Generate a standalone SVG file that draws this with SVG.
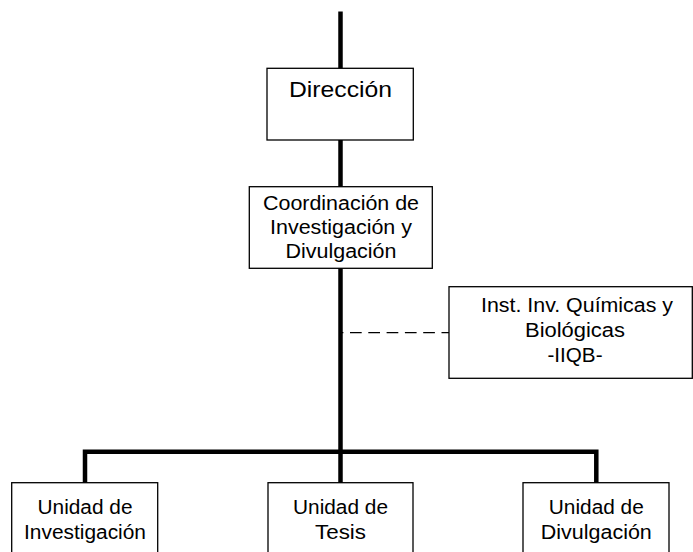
<svg xmlns="http://www.w3.org/2000/svg" width="693" height="552" viewBox="0 0 693 552">
<style>
.box{fill:#fff;stroke:#000;stroke-width:1.3}
.t{font-family:"Liberation Sans",Arial,sans-serif;font-size:19.5px;fill:#000;text-anchor:middle}
.big{font-size:21.5px}
.conn{stroke:#000;stroke-width:4.5;fill:none;stroke-linecap:butt}
.dash{stroke:#000;stroke-width:1.3;fill:none;stroke-dasharray:11.7 6.6;stroke-dashoffset:10.3}
</style>
<rect width="693" height="552" fill="#fff"/>
<g id="connectors">
<line class="conn" x1="340.5" y1="11.5" x2="340.5" y2="68"/>
<line class="conn" x1="340.5" y1="140" x2="340.5" y2="187"/>
<polyline class="conn" points="340.5,268 340.5,483"/>
<polyline class="conn" points="85,483 85,451.7 596.3,451.7 596.3,483"/>
<line class="dash" x1="342" y1="332.7" x2="449" y2="332.7"/>
</g>
<g id="direccion">
<rect class="box" x="267" y="68.3" width="146.3" height="71.7"/>
<text class="t big" x="340.5" y="97" textLength="103" lengthAdjust="spacingAndGlyphs">Dirección</text>
</g>
<g id="coordinacion">
<rect class="box" x="249.3" y="186.7" width="183" height="81.6"/>
<text class="t" x="341" y="210" textLength="156" lengthAdjust="spacingAndGlyphs">Coordinación de</text>
<text class="t" x="341" y="234" textLength="142" lengthAdjust="spacingAndGlyphs">Investigación y</text>
<text class="t" x="341" y="258" textLength="111" lengthAdjust="spacingAndGlyphs">Divulgación</text>
</g>
<g id="iiqb">
<rect class="box" x="449" y="286.7" width="243.3" height="91.6"/>
<text class="t" x="577" y="312" textLength="192" lengthAdjust="spacingAndGlyphs">Inst. Inv. Químicas y</text>
<text class="t" x="575" y="337" textLength="100" lengthAdjust="spacingAndGlyphs">Biológicas</text>
<text class="t" x="575" y="362" textLength="55" lengthAdjust="spacingAndGlyphs">-IIQB-</text>
</g>
<g id="unidad-investigacion">
<rect class="box" x="11.7" y="482.7" width="146" height="80"/>
<text class="t" x="85" y="514" textLength="95" lengthAdjust="spacingAndGlyphs">Unidad de</text>
<text class="t" x="85" y="538.5" textLength="122" lengthAdjust="spacingAndGlyphs">Investigación</text>
</g>
<g id="unidad-tesis">
<rect class="box" x="268" y="482.7" width="145" height="80"/>
<text class="t" x="340.5" y="514" textLength="95" lengthAdjust="spacingAndGlyphs">Unidad de</text>
<text class="t" x="340.5" y="538.5" textLength="51" lengthAdjust="spacingAndGlyphs">Tesis</text>
</g>
<g id="unidad-divulgacion">
<rect class="box" x="523" y="482.7" width="146" height="80"/>
<text class="t" x="596.3" y="514" textLength="95" lengthAdjust="spacingAndGlyphs">Unidad de</text>
<text class="t" x="596.3" y="538.5" textLength="111" lengthAdjust="spacingAndGlyphs">Divulgación</text>
</g>
</svg>
